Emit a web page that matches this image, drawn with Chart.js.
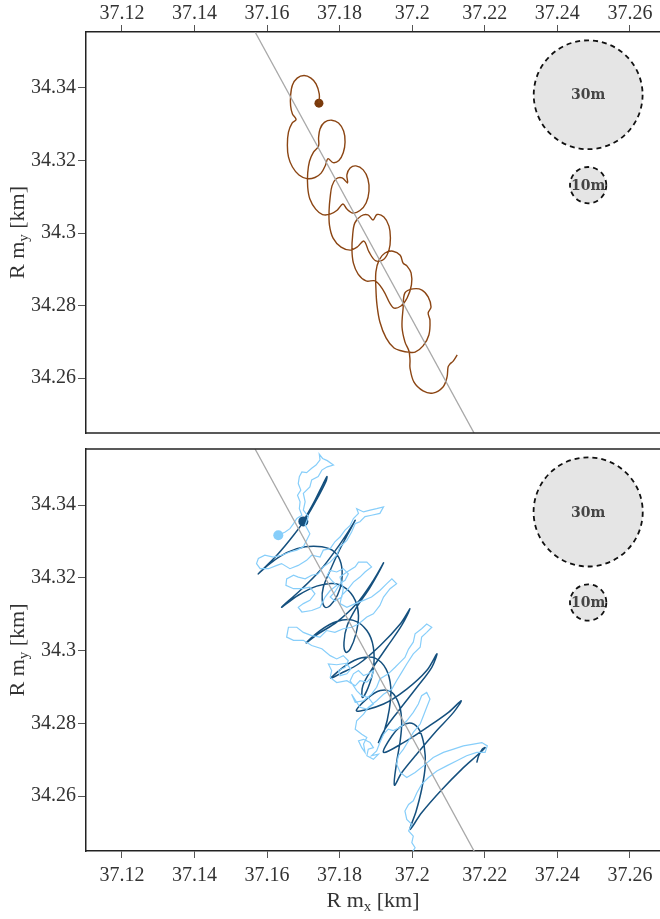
<!DOCTYPE html>
<html><head><meta charset="utf-8">
<script src="https://cdn.jsdelivr.net/npm/chart.js@4.4.1/dist/chart.umd.min.js"></script>
<style>
html,body{margin:0;padding:0;background:#fff;overflow:hidden;width:660px;height:919px}
.p{position:absolute;left:0;width:660px}
</style></head><body>
<div class="p" style="top:0;height:441px"><canvas id="c1"></canvas></div>
<div class="p" style="top:441px;height:478px"><canvas id="c2"></canvas></div>
<script>
const xTicks = [37.12,37.14,37.16,37.18,37.2,37.22,37.24,37.26];
const yTicks = [34.26,34.28,34.3,34.32,34.34];
const xRange = [37.1101,37.2683];
const yRange = [34.2449,34.3554];
const guideX = [37.1567,37.2171];
const guideY = [34.3554,34.2448];
const circleX = [37.2485,37.2485];
const circleY = [34.3381,34.3132];
const circleR = [0.015,0.005];
const circleLabels = ['30m','10m'];

const brownX = [37.1743,37.1744,37.1735,37.1721,37.1702,37.1683,37.1670,37.1665,37.1665,37.1670,37.1680,37.1669,37.1659,37.1656,37.1659,37.1670,37.1688,37.1710,37.1732,37.1749,37.1761,37.1768,37.1782,37.1798,37.1810,37.1815,37.1811,37.1797,37.1778,37.1758,37.1746,37.1742,37.1742,37.1728,37.1717,37.1712,37.1712,37.1718,37.1734,37.1753,37.1774,37.1793,37.1809,37.1820,37.1837,37.1856,37.1873,37.1881,37.1878,37.1865,37.1845,37.1829,37.1820,37.1822,37.1807,37.1790,37.1779,37.1774,37.1771,37.1772,37.1782,37.1804,37.1829,37.1848,37.1867,37.1881,37.1900,37.1922,37.1936,37.1940,37.1936,37.1922,37.1903,37.1892,37.1878,37.1859,37.1842,37.1836,37.1834,37.1838,37.1851,37.1873,37.1898,37.1920,37.1947,37.1969,37.1986,37.1998,37.1997,37.1986,37.1975,37.1967,37.1947,37.1925,37.1909,37.1900,37.1900,37.1903,37.1911,37.1928,37.1950,37.1972,37.1989,37.2008,37.2030,37.2046,37.2049,37.2044,37.2052,37.2044,37.2027,37.2002,37.1980,37.1975,37.1972,37.1980,37.1991,37.1994,37.1994,37.2005,37.2030,37.2057,37.2085,37.2096,37.2099,37.2104,37.2113,37.2124];
const brownY = [34.3358,34.3383,34.3411,34.3427,34.3434,34.3427,34.3408,34.3380,34.3350,34.3328,34.3313,34.3303,34.3278,34.3242,34.3210,34.3182,34.3160,34.3150,34.3153,34.3165,34.3187,34.3205,34.3194,34.3200,34.3221,34.3251,34.3281,34.3303,34.3311,34.3305,34.3287,34.3262,34.3240,34.3223,34.3198,34.3165,34.3127,34.3094,34.3066,34.3051,34.3052,34.3063,34.3080,34.3066,34.3055,34.3062,34.3083,34.3116,34.3149,34.3174,34.3185,34.3179,34.3160,34.3138,34.3152,34.3149,34.3130,34.3099,34.3063,34.3022,34.2986,34.2961,34.2953,34.2961,34.2978,34.2948,34.2923,34.2928,34.2953,34.2986,34.3019,34.3044,34.3051,34.3036,34.3050,34.3047,34.3028,34.2995,34.2953,34.2917,34.2887,34.2868,34.2868,34.2843,34.2795,34.2799,34.2821,34.2857,34.2890,34.2909,34.2917,34.2939,34.2950,34.2945,34.2926,34.2893,34.2848,34.2802,34.2755,34.2711,34.2683,34.2675,34.2672,34.2672,34.2689,34.2719,34.2760,34.2780,34.2796,34.2824,34.2843,34.2846,34.2835,34.2793,34.2741,34.2700,34.2675,34.2650,34.2628,34.2589,34.2565,34.2559,34.2576,34.2603,34.2631,34.2639,34.2647,34.2664];

const darkX = [37.1700,37.1732,37.1755,37.1765,37.1762,37.1741,37.1709,37.1673,37.1627,37.1576,37.1608,37.1654,37.1705,37.1751,37.1786,37.1804,37.1806,37.1794,37.1774,37.1760,37.1752,37.1755,37.1772,37.1797,37.1821,37.1843,37.1829,37.1792,37.1746,37.1691,37.1640,37.1686,37.1737,37.1783,37.1818,37.1843,37.1852,37.1845,37.1829,37.1817,37.1812,37.1821,37.1847,37.1884,37.1921,37.1893,37.1847,37.1792,37.1741,37.1708,37.1746,37.1792,37.1838,37.1875,37.1893,37.1893,37.1879,37.1863,37.1864,37.1889,37.1930,37.1971,37.1994,37.1967,37.1912,37.1852,37.1801,37.1776,37.1820,37.1861,37.1898,37.1928,37.1941,37.1937,37.1923,37.1907,37.1925,37.1962,37.2013,37.2054,37.2068,37.2040,37.1985,37.1921,37.1847,37.1875,37.1912,37.1944,37.1965,37.1971,37.1967,37.1957,37.1951,37.1971,37.2008,37.2063,37.2114,37.2135,37.2100,37.2040,37.1976,37.1921,37.1944,37.1971,37.1999,37.2020,37.2033,37.2036,37.2026,37.2011,37.1994,37.2026,37.2082,37.2137,37.2180,37.2201,37.2193,37.2183,37.2178];
const darkY = [34.3355,34.3413,34.3459,34.3478,34.3464,34.3423,34.3367,34.3317,34.3262,34.3211,34.3239,34.3269,34.3285,34.3285,34.3271,34.3239,34.3193,34.3152,34.3124,34.3119,34.3140,34.3174,34.3216,34.3271,34.3317,34.3358,34.3335,34.3280,34.3220,34.3165,34.3119,34.3152,34.3177,34.3184,34.3170,34.3138,34.3096,34.3046,34.3004,34.2995,34.3023,34.3069,34.3119,34.3174,34.3241,34.3193,34.3129,34.3078,34.3046,34.3021,34.3055,34.3080,34.3083,34.3055,34.3009,34.2949,34.2899,34.2871,34.2903,34.2949,34.3009,34.3069,34.3115,34.3073,34.3014,34.2963,34.2936,34.2924,34.2961,34.2980,34.2979,34.2949,34.2899,34.2839,34.2779,34.2747,34.2784,34.2834,34.2899,34.2954,34.2991,34.2945,34.2894,34.2853,34.2834,34.2867,34.2890,34.2885,34.2848,34.2802,34.2752,34.2692,34.2630,34.2664,34.2710,34.2775,34.2830,34.2862,34.2830,34.2788,34.2747,34.2720,34.2765,34.2793,34.2800,34.2781,34.2738,34.2683,34.2618,34.2559,34.2508,34.2554,34.2618,34.2674,34.2713,34.2733,34.2729,34.2710,34.2692];

const lightX = [37.1631,37.1650,37.1663,37.1673,37.1682,37.1696,37.1689,37.1691,37.1684,37.1693,37.1686,37.1689,37.1696,37.1709,37.1723,37.1735,37.1746,37.1744,37.1753,37.1766,37.1783,37.1766,37.1751,37.1741,37.1723,37.1718,37.1700,37.1705,37.1700,37.1714,37.1705,37.1718,37.1709,37.1700,37.1682,37.1663,37.1640,37.1617,37.1594,37.1576,37.1571,37.1581,37.1604,37.1627,37.1640,37.1663,37.1686,37.1709,37.1723,37.1746,37.1755,37.1774,37.1787,37.1801,37.1815,37.1829,37.1838,37.1852,37.1847,37.1866,37.1884,37.1902,37.1921,37.1911,37.1888,37.1870,37.1856,37.1843,37.1833,37.1820,37.1801,37.1792,37.1774,37.1755,37.1741,37.1723,37.1705,37.1686,37.1673,37.1654,37.1652,37.1673,37.1696,37.1718,37.1732,37.1718,37.1700,37.1686,37.1696,37.1723,37.1746,37.1760,37.1774,37.1792,
37.1778,37.1766,37.1774,37.1792,37.1810,37.1824,37.1815,37.1801,37.1787,37.1774,37.1787,37.1806,37.1810,
37.1801,37.1820,37.1843,37.1852,37.1875,37.1888,37.1870,37.1856,37.1838,37.1824,37.1806,37.1801,37.1820,37.1843,37.1866,37.1888,37.1911,37.1930,37.1944,37.1957,37.1939,37.1921,37.1911,37.1893,37.1875,37.1852,37.1833,37.1810,37.1787,37.1764,37.1746,37.1723,37.1700,37.1682,37.1659,37.1654,37.1673,37.1700,37.1723,37.1751,37.1774,
37.1792,37.1810,37.1824,37.1815,37.1797,37.1801,37.1820,37.1831,37.1818,37.1792,
37.1769,37.1778,37.1774,37.1792,37.1820,37.1843,
37.1856,37.1875,37.1888,37.1893,37.1879,37.1866,37.1852,37.1838,37.1829,37.1847,37.1861,37.1879,37.1893,37.1875,37.1856,
37.1833,37.1843,37.1866,37.1888,37.1902,37.1911,37.1934,37.1953,37.1967,37.1980,37.1990,37.2003,37.2008,37.2026,37.2040,37.2054,37.2040,37.2026,37.2022,37.2003,37.1985,37.1971,37.1957,37.1944,37.1921,37.1902,37.1879,37.1866,37.1847,37.1843,37.1861,37.1875,37.1866,37.1870,
37.1861,37.1852,37.1866,37.1884,37.1893,37.1879,37.1875,37.1893,37.1907,
37.1888,37.1902,37.1911,37.1921,37.1934,37.1948,37.1967,37.1985,37.2003,37.2017,37.2026,37.2040,37.2049,37.2040,37.2031,37.2022,37.2003,37.1990,37.1976,37.1962,37.1957,37.1967,37.1985,37.2008,37.2031,37.2058,37.2086,37.2114,37.2141,37.2169,37.2192,37.2207,37.2201,37.2178,37.2150,37.2123,37.2095,37.2068,37.2045,37.2026,37.2013,37.2003,37.1990,37.1980,37.1985,37.1999,37.1990,37.2003,37.1999,37.2008,37.1999];
const lightY = [34.3317,34.3326,34.3335,34.3349,34.3363,34.3372,34.3390,34.3409,34.3427,34.3441,34.3459,34.3478,34.3491,34.3489,34.3501,34.3510,34.3524,34.3540,34.3528,34.3522,34.3510,34.3505,34.3496,34.3478,34.3469,34.3450,34.3432,34.3409,34.3386,34.3368,34.3345,34.3321,34.3303,34.3285,34.3276,34.3271,34.3262,34.3257,34.3262,34.3253,34.3239,34.3225,34.3225,34.3234,34.3239,34.3225,34.3234,34.3248,34.3262,34.3257,34.3276,34.3280,34.3299,34.3312,34.3331,34.3344,34.3363,34.3377,34.3390,34.3381,34.3386,34.3390,34.3395,34.3377,34.3372,34.3368,34.3354,34.3349,34.3326,34.3303,34.3285,34.3262,34.3243,34.3230,34.3211,34.3207,34.3197,34.3202,34.3207,34.3197,34.3179,34.3170,34.3170,34.3174,34.3156,34.3138,34.3129,34.3119,34.3106,34.3110,34.3119,34.3147,34.3165,34.3179,
34.3193,34.3207,34.3220,34.3216,34.3225,34.3211,34.3193,34.3184,34.3161,34.3147,34.3136,34.3147,34.3170,
34.3202,34.3216,34.3230,34.3243,34.3243,34.3230,34.3216,34.3202,34.3188,34.3170,34.3152,34.3129,34.3119,34.3129,34.3138,34.3147,34.3165,34.3184,34.3197,34.3184,34.3170,34.3147,34.3124,34.3101,34.3092,34.3073,34.3064,34.3060,34.3050,34.3055,34.3037,34.3041,34.3050,34.3064,34.3064,34.3037,34.3028,34.3028,34.3014,34.3005,34.2986,
34.2977,34.2986,34.2972,34.2954,34.2945,34.2931,34.2936,34.2949,34.2965,34.2961,
34.2963,34.2945,34.2926,34.2912,34.2917,34.2903,
34.2917,34.2913,34.2926,34.2945,34.2936,34.2931,34.2945,34.2936,34.2917,34.2890,34.2876,34.2871,34.2853,34.2839,34.2844,
34.2880,34.2858,34.2862,34.2880,34.2899,34.2922,34.2936,34.2954,34.2968,34.2981,34.3004,34.3023,34.3046,34.3060,34.3073,34.3064,34.3050,34.3037,34.3009,34.2991,34.2963,34.2940,34.2917,34.2894,34.2880,34.2862,34.2844,34.2825,34.2807,34.2784,34.2770,34.2761,34.2743,34.2720,
34.2733,34.2752,34.2756,34.2747,34.2733,34.2729,34.2711,34.2701,34.2715,
34.2711,34.2724,34.2747,34.2770,34.2784,34.2780,34.2789,34.2807,34.2830,34.2853,34.2876,34.2885,34.2867,34.2844,34.2821,34.2798,34.2775,34.2752,34.2729,34.2711,34.2688,34.2665,34.2651,34.2665,34.2683,34.2706,34.2720,34.2729,34.2738,34.2743,34.2747,34.2738,34.2720,34.2720,34.2711,34.2697,34.2683,34.2669,34.2651,34.2632,34.2609,34.2587,34.2577,34.2559,34.2536,34.2522,34.2504,34.2490,34.2472,34.2458,34.2444];

const pts = (xs, ys) => xs.map((x, i) => ({x: x, y: ys[i]}));
const TXT = '#333333';
const SERIF = "'Liberation Serif', 'Times New Roman', serif";

function lineSet(xs, ys, color, w, tension) {
  return {data: pts(xs, ys), showLine: true, borderColor: color, borderWidth: w,
    pointRadius: 0, pointHoverRadius: 0, tension: tension, fill: false};
}
function dotSet(xs, ys, color, r) {
  return {data: [{x: xs[0], y: ys[0]}], showLine: false, pointRadius: r,
    pointBackgroundColor: color, pointBorderColor: color, pointBorderWidth: 0};
}
function drawSubTitle(ctx, a, sub, b, cx, cy) {
  const big = "22px " + SERIF, small = "15px " + SERIF;
  ctx.font = big; const wa = ctx.measureText(a).width, wb = ctx.measureText(b).width;
  ctx.font = small; const ws = ctx.measureText(sub).width;
  let x = cx - (wa + ws + wb) / 2;
  ctx.textBaseline = 'middle'; ctx.textAlign = 'left';
  ctx.font = big; ctx.fillText(a, x, cy); x += wa;
  ctx.font = small; ctx.fillText(sub, x, cy + 6); x += ws;
  ctx.font = big; ctx.fillText(b, x, cy);
}

const decor = {
  id: 'decor',
  afterDatasetsDraw(chart) {
    const ctx = chart.ctx, a = chart.chartArea;
    const xs = chart.scales.x, ys = chart.scales.y;
    ctx.save();
    ctx.beginPath(); ctx.rect(a.left, a.top, a.right - a.left, a.bottom - a.top); ctx.clip();
    for (let i = 0; i < circleX.length; i++) {
      const cx = xs.getPixelForValue(circleX[i]);
      const cy = ys.getPixelForValue(circleY[i]);
      const r = Math.abs(ys.getPixelForValue(circleY[i] + circleR[i]) - cy);
      ctx.beginPath(); ctx.arc(cx, cy, r, 0, Math.PI * 2);
      ctx.fillStyle = '#e5e5e5'; ctx.fill();
      ctx.setLineDash([5, 4]); ctx.lineWidth = 1.8; ctx.strokeStyle = '#111'; ctx.stroke();
      ctx.setLineDash([]);
      ctx.fillStyle = '#444'; ctx.font = "bold 14px 'DejaVu Serif', serif";
      ctx.textAlign = 'center'; ctx.textBaseline = 'middle';
      ctx.fillText(circleLabels[i], cx, cy + 1);
    }
    ctx.restore();
  },
  afterDraw(chart, args, o) {
    const ctx = chart.ctx, a = chart.chartArea;
    ctx.save();
    ctx.strokeStyle = '#222'; ctx.lineWidth = 1.5;
    ctx.beginPath();
    if (o.extraLine === 'bottom') { ctx.moveTo(a.left, a.bottom); ctx.lineTo(a.right, a.bottom); }
    else { ctx.moveTo(a.left, a.top); ctx.lineTo(a.right, a.top); }
    ctx.stroke();
    ctx.fillStyle = TXT;
    ctx.translate(18, (a.top + a.bottom) / 2); ctx.rotate(-Math.PI / 2);
    drawSubTitle(ctx, 'R m', 'y', ' [km]', 0, 0);
    ctx.restore();
    if (o.xTitle) {
      ctx.save(); ctx.fillStyle = TXT;
      drawSubTitle(ctx, 'R m', 'x', ' [km]', (a.left + a.right) / 2, o.xTitleY);
      ctx.restore();
    }
  }
};

function zeroPad(s) { s.paddingTop = 0; s.paddingBottom = 0; s.paddingLeft = 0; s.paddingRight = 0; }

function makeChart(id, datasets, xPos, padding, xH, xPad, extraLine, xTitle, xTitleY) {
  return new Chart(document.getElementById(id), {
    type: 'scatter',
    data: {datasets: datasets},
    plugins: [decor],
    options: {
      responsive: true, maintainAspectRatio: false, animation: false,
      layout: {padding: padding, autoPadding: false},
      plugins: {legend: {display: false}, tooltip: {enabled: false},
        decor: {extraLine: extraLine, xTitle: xTitle, xTitleY: xTitleY}},
      scales: {
        x: {type: 'linear', position: xPos, min: xRange[0], max: xRange[1],
          afterBuildTicks: s => { s.ticks = xTicks.map(v => ({value: v})); },
          afterFit: s => { s.height = xH; zeroPad(s); },
          ticks: {callback: v => String(v), color: TXT, font: {family: SERIF, size: 20}, padding: xPad, maxRotation: 0, autoSkip: false},
          grid: {drawOnChartArea: false, tickLength: 7, color: '#555', lineWidth: 1},
          border: {display: true, color: '#222', width: 1.5}},
        y: {type: 'linear', min: yRange[0], max: yRange[1],
          afterBuildTicks: s => { s.ticks = yTicks.map(v => ({value: v})); },
          afterFit: s => { s.width = 86; zeroPad(s); },
          ticks: {callback: v => String(v), color: TXT, font: {family: SERIF, size: 20}, padding: 2, autoSkip: false},
          grid: {drawOnChartArea: false, tickLength: 8, color: '#555', lineWidth: 1},
          border: {display: true, color: '#222', width: 1.5}}
      }
    }
  });
}

const guideSet = () => lineSet(guideX, guideY, '#a8a8a8', 1.3, 0);

makeChart('c1', [
  guideSet(),
  lineSet(brownX, brownY, '#8b4513', 1.4, 0.35),
  dotSet(brownX, brownY, '#7a3a0c', 4.5)
], 'top', {top: 0, left: 0, right: 0, bottom: 8}, 32, -1, 'bottom', false, 0);

makeChart('c2', [
  guideSet(),
  lineSet(lightX, lightY, '#87cefa', 1.2, 0),
  lineSet(darkX, darkY, '#15507e', 1.5, 0.35),
  dotSet(lightX, lightY, '#87cefa', 5),
  dotSet(darkX, darkY, '#15507e', 5)
], 'bottom', {top: 8, left: 0, right: 0, bottom: 0}, 68, 6, 'top', true, 460);
</script>
</body></html>
